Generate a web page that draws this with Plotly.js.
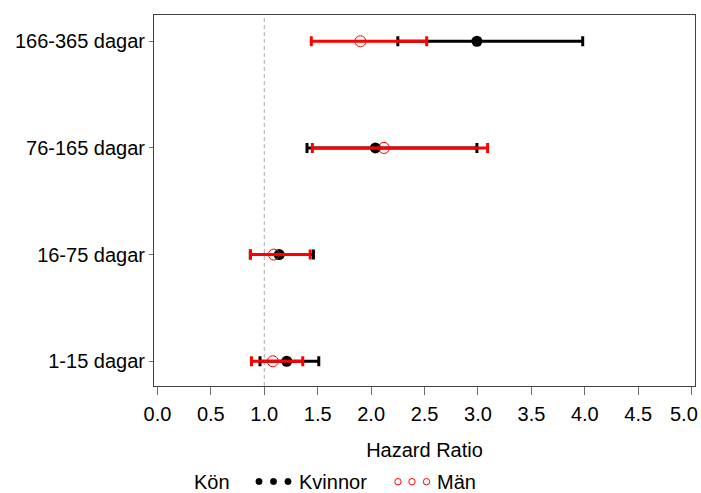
<!DOCTYPE html>
<html>
<head>
<meta charset="utf-8">
<script src="https://cdn.plot.ly/plotly-3.0.1.min.js"></script>
<style>html,body{margin:0;padding:0;background:#fff;}#chart{width:701px;height:493px;}</style>
</head>
<body>
<div id="chart"></div>
<script>
// Categories (bottom to top)
const categories = ['1-15 dagar', '16-75 dagar', '76-165 dagar', '166-365 dagar'];
// Kvinnor
const kvinnorHR = [1.21, 1.14, 2.04, 2.99];
const kvinnorLow = [0.96, 0.87, 1.40, 2.25];
const kvinnorHigh = [1.51, 1.46, 2.99, 3.98];
// Män
const manHR = [1.08, 1.09, 2.12, 1.90];
const manLow = [0.88, 0.87, 1.45, 1.44];
const manHigh = [1.36, 1.43, 3.09, 2.52];
const xTicks = [0, 0.5, 1, 1.5, 2, 2.5, 3, 3.5, 4, 4.5, 5];
const xTickText = ['0.0','0.5','1.0','1.5','2.0','2.5','3.0','3.5','4.0','4.5','5.0'];
const refLine = 1.0;
const legendTitle = 'Kön';
const seriesNames = ['Kvinnor', 'Män'];

const FONT = 'Liberation Sans, Arial, sans-serif';

function errs(v, lo, hi) {
  return {
    plus: hi.map((h, i) => h - v[i]),
    minus: lo.map((l, i) => v[i] - l)
  };
}
const ek = errs(kvinnorHR, kvinnorLow, kvinnorHigh);
const em = errs(manHR, manLow, manHigh);

const traces = [
  {
    type: 'scatter', mode: 'markers', name: seriesNames[0],
    x: kvinnorHR, y: categories,
    marker: {color: '#000000', size: 11, symbol: 'circle'},
    error_x: {type: 'data', symmetric: false, array: ek.plus, arrayminus: ek.minus,
              color: '#000000', thickness: 3, width: 5},
    showlegend: false
  },
  {
    type: 'scatter', mode: 'markers', name: seriesNames[1],
    x: manHR, y: categories,
    marker: {color: '#ff0000', size: 11, symbol: 'circle-open',
             line: {color: '#ff0000', width: 1}},
    error_x: {type: 'data', symmetric: false, array: em.plus, arrayminus: em.minus,
              color: '#ff0000', thickness: 3, width: 5},
    showlegend: false
  }
];

// layout helpers (paper coordinates)
const L = 154, W = 541, T = 15, H = 371;
const px = v => (v - L) / W;
const py = v => (T + H - v) / H;

const shapes = [
  {type: 'line', xref: 'x', yref: 'paper', x0: refLine, x1: refLine, y0: 0, y1: 1,
   line: {color: '#a8a8a8', width: 1, dash: '4px,3px'}, layer: 'below'}
];
[259, 273.5, 288].forEach(cx => shapes.push({
  type: 'circle', xref: 'paper', yref: 'paper', xsizemode: 'pixel', ysizemode: 'pixel',
  xanchor: px(cx), yanchor: py(481.5), x0: -3.2, x1: 3.2, y0: -3.2, y1: 3.2,
  fillcolor: '#000000', line: {color: '#000000', width: 0.5}
}));
[398, 412, 426.5].forEach(cx => shapes.push({
  type: 'circle', xref: 'paper', yref: 'paper', xsizemode: 'pixel', ysizemode: 'pixel',
  xanchor: px(cx), yanchor: py(481.7), x0: -3.2, x1: 3.2, y0: -3.2, y1: 3.2,
  fillcolor: 'rgba(0,0,0,0)', line: {color: '#ff0000', width: 1}
}));

const annFont = {family: FONT, size: 20, color: '#000000'};
const annY = py(481.5);
const lastTick = xTicks.length - 1;
const annotations = [
  {text: legendTitle, xref: 'paper', yref: 'paper', x: px(193), y: annY, xanchor: 'left', yanchor: 'middle', showarrow: false, font: annFont, borderpad: 0},
  {text: seriesNames[0], xref: 'paper', yref: 'paper', x: px(298), y: annY, xanchor: 'left', yanchor: 'middle', showarrow: false, font: annFont, borderpad: 0},
  {text: seriesNames[1], xref: 'paper', yref: 'paper', x: px(436), y: annY, xanchor: 'left', yanchor: 'middle', showarrow: false, font: annFont, borderpad: 0},
  // last x tick label, pulled inside the page like the reference
  {text: xTickText[lastTick], xref: 'paper', yref: 'paper', x: px(698.5), y: py(414), xanchor: 'right', yanchor: 'middle', showarrow: false, font: annFont, borderpad: 0}
];
const shownTickText = xTickText.map((t, i) => i === lastTick ? '' : t);

const layout = {
  width: 701, height: 493,
  margin: {l: L, r: 701 - L - W, t: T, b: 493 - T - H, pad: 0},
  paper_bgcolor: '#ffffff', plot_bgcolor: '#ffffff',
  font: {family: FONT, size: 20, color: '#000000'},
  showlegend: false,
  xaxis: {
    range: [-0.032, 5.031], tickvals: xTicks, ticktext: shownTickText,
    showline: true, mirror: true, linecolor: '#404040', linewidth: 1,
    ticks: 'outside', ticklen: 8, tickcolor: '#707070', tickwidth: 1,
    showgrid: false, zeroline: false,
    ticklabelstandoff: 2,
    tickfont: {family: FONT, size: 20, color: '#000000'},
    title: {text: 'Hazard Ratio', font: {family: FONT, size: 20, color: '#000000'}, standoff: 18}
  },
  yaxis: {
    type: 'category', categoryorder: 'array', categoryarray: categories,
    range: [-0.232, 3.246],
    showline: true, mirror: true, linecolor: '#404040', linewidth: 1,
    ticks: 'outside', ticklen: 4, tickcolor: '#707070', tickwidth: 1,
    showgrid: false, zeroline: false,
    tickfont: {family: FONT, size: 20, color: '#000000'}
  },
  shapes: shapes,
  annotations: annotations
};

Plotly.newPlot('chart', traces, layout, {displayModeBar: false, staticPlot: true});
</script>
</body>
</html>
